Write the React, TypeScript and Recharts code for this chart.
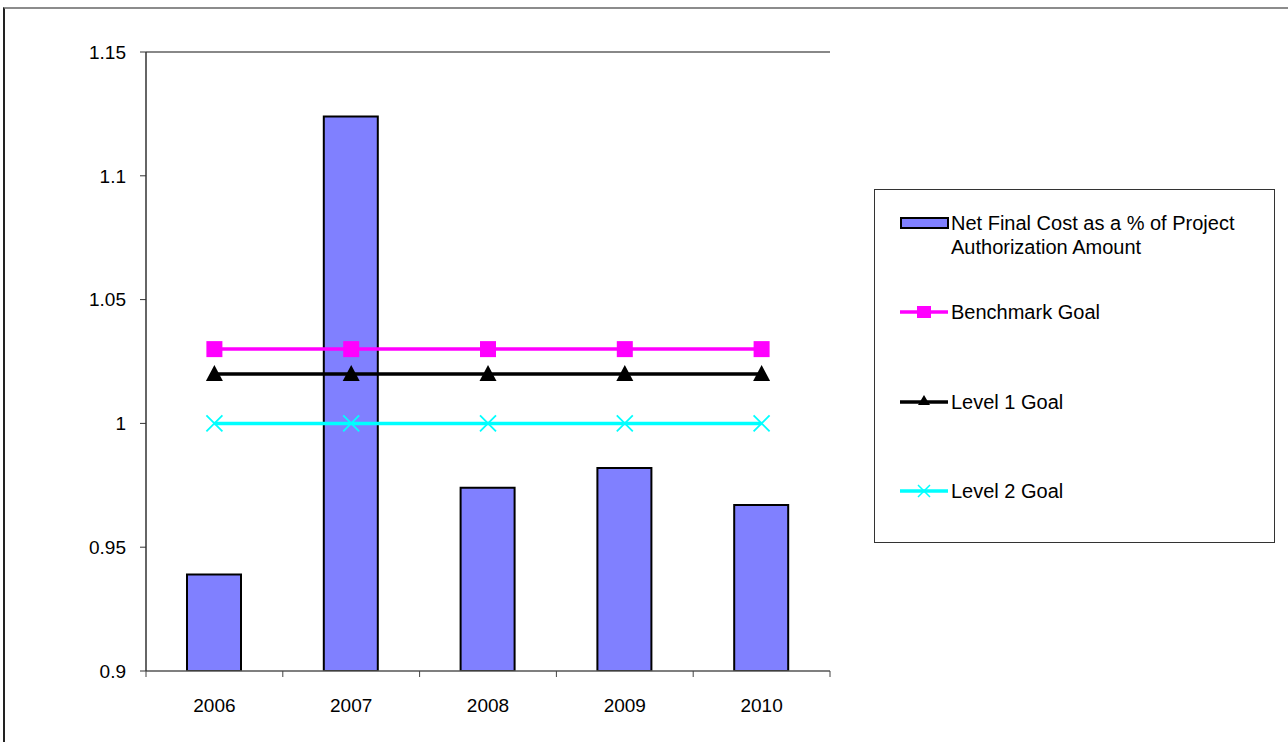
import { BarChart, Bar, Line, XAxis, YAxis, ReferenceLine } from 'recharts'

const years = ['2006', '2007', '2008', '2009', '2010']
const netFinalCost = [0.939, 1.124, 0.974, 0.982, 0.967]
const benchmarkGoal = [1.03, 1.03, 1.03, 1.03, 1.03]
const level1Goal = [1.02, 1.02, 1.02, 1.02, 1.02]
const level2Goal = [1.0, 1.0, 1.0, 1.0, 1.0]
const yTicks = [0.9, 0.95, 1, 1.05, 1.1, 1.15]

const data = years.map((year, i) => ({
  year,
  cost: netFinalCost[i],
  benchmark: benchmarkGoal[i],
  level1: level1Goal[i],
  level2: level2Goal[i],
}))

const FONT = 'Arial, "Liberation Sans", sans-serif'
const BAND = 684 / years.length

// Excel-style category ticks: marks sit between categories, not under them
const YearTick = ({ x, y, payload, index }: any) => {
  const half = BAND / 2
  return (
    <g>
      <line x1={x - half} x2={x - half} y1={y} y2={y + 6} stroke="#444" strokeWidth={1} />
      {index === years.length - 1 && (
        <line x1={x + half} x2={x + half} y1={y} y2={y + 6} stroke="#444" strokeWidth={1} />
      )}
      <text x={x} y={y + 41} textAnchor="middle" fontSize={19} fontFamily={FONT} fill="#000">
        {payload.value}
      </text>
    </g>
  )
}

const SquareDot = ({ cx, cy, index }: any) => (
  <rect key={`sq-${index}`} x={cx - 8} y={cy - 8} width={16} height={16} fill="#ff00ff" />
)

const TriangleDot = ({ cx, cy, index }: any) => (
  <path key={`tri-${index}`} d={`M${cx},${cy - 9} L${cx + 8.5},${cy + 7} L${cx - 8.5},${cy + 7} Z`} fill="#000" />
)

const CrossDot = ({ cx, cy, index }: any) => (
  <path
    key={`x-${index}`}
    d={`M${cx - 8},${cy - 8} L${cx + 8},${cy + 8} M${cx - 8},${cy + 8} L${cx + 8},${cy - 8}`}
    stroke="#00ffff"
    strokeWidth={1.8}
    fill="none"
  />
)

const legendItems = [
  { key: 'cost', label: ['Net Final Cost as a % of Project', 'Authorization Amount'], top: 211 },
  { key: 'benchmark', label: ['Benchmark Goal'], top: 300 },
  { key: 'level1', label: ['Level 1 Goal'], top: 390 },
  { key: 'level2', label: ['Level 2 Goal'], top: 479 },
]

function Swatch({ kind }: { kind: string }) {
  return (
    <svg width={50} height={24} style={{ position: 'absolute', left: 900, top: 0 }}>
      {kind === 'cost' && <rect x={1} y={7} width={47} height={10} fill="#8080ff" stroke="#000" strokeWidth={2} />}
      {kind === 'benchmark' && (
        <g>
          <line x1={0} x2={48} y1={12} y2={12} stroke="#ff00ff" strokeWidth={3.5} />
          <rect x={17} y={6} width={14} height={12} fill="#ff00ff" />
        </g>
      )}
      {kind === 'level1' && (
        <g>
          <line x1={0} x2={48} y1={12} y2={12} stroke="#000" strokeWidth={3.5} />
          <path d="M24,5 L30,15 L18,15 Z" fill="#000" />
        </g>
      )}
      {kind === 'level2' && (
        <g>
          <line x1={0} x2={48} y1={12} y2={12} stroke="#00ffff" strokeWidth={3.5} />
          <path d="M18,6 L30,18 M18,18 L30,6" stroke="#00ffff" strokeWidth={1.5} />
        </g>
      )}
    </svg>
  )
}

export default function App() {
  return (
    <div style={{ position: 'absolute', left: 0, top: 0, width: 1288, height: 742, background: '#fff', fontFamily: FONT }}>
      <div
        style={{
          position: 'absolute',
          left: 3,
          top: 7,
          width: 1300,
          height: 760,
          borderTop: '2px solid #8c8c8c',
          borderLeft: '2px solid #222',
        }}
      />
      <BarChart
        width={1288}
        height={742}
        data={data}
        margin={{ top: 52, right: 458, bottom: 31, left: 0 }}
        barSize={54}
        style={{ position: 'absolute', left: 0, top: 0 }}
      >
        <XAxis
          dataKey="year"
          height={40}
          axisLine={{ stroke: '#555', strokeWidth: 1.5 }}
          tickLine={false}
          tickSize={0}
          tickMargin={0}
          tick={<YearTick />}
          interval={0}
        />
        <YAxis
          yAxisId="left"
          width={146}
          domain={[0.9, 1.15]}
          ticks={yTicks}
          allowDataOverflow
          axisLine={{ stroke: '#333', strokeWidth: 1.5 }}
          tickLine={{ stroke: '#333' }}
          tickSize={6}
          tickMargin={14}
          tick={{ fontSize: 19, fontFamily: FONT, fill: '#000' }}
        />
        <YAxis
          yAxisId="right"
          orientation="right"
          width={0}
          domain={[0.9, 1.15]}
          tick={false}
          tickLine={false}
          axisLine={{ stroke: '#888', strokeWidth: 2 }}
        />
        <ReferenceLine yAxisId="left" y={1.15} stroke="#888" strokeWidth={2} />
        <Bar yAxisId="left" dataKey="cost" fill="#8080ff" stroke="#000" strokeWidth={2} isAnimationActive={false} />
        <Line
          yAxisId="left"
          dataKey="benchmark"
          stroke="#ff00ff"
          strokeWidth={3.5}
          dot={<SquareDot />}
          activeDot={false}
          isAnimationActive={false}
        />
        <Line
          yAxisId="left"
          dataKey="level1"
          stroke="#000"
          strokeWidth={3.5}
          dot={<TriangleDot />}
          activeDot={false}
          isAnimationActive={false}
        />
        <Line
          yAxisId="left"
          dataKey="level2"
          stroke="#00ffff"
          strokeWidth={3.5}
          dot={<CrossDot />}
          activeDot={false}
          isAnimationActive={false}
        />
      </BarChart>
      <div
        style={{
          position: 'absolute',
          left: 874,
          top: 189,
          width: 401,
          height: 354,
          border: '1.5px solid #333',
          boxSizing: 'border-box',
        }}
      />
      {legendItems.map((item) => (
        <div key={item.key} style={{ position: 'absolute', left: 0, top: item.top, width: 1288 }}>
          <Swatch kind={item.key} />
          <div style={{ position: 'absolute', left: 951, top: 0, fontSize: 20, lineHeight: '24px', color: '#000', whiteSpace: 'nowrap' }}>
            {item.label.map((l) => (
              <div key={l}>{l}</div>
            ))}
          </div>
        </div>
      ))}
    </div>
  )
}
